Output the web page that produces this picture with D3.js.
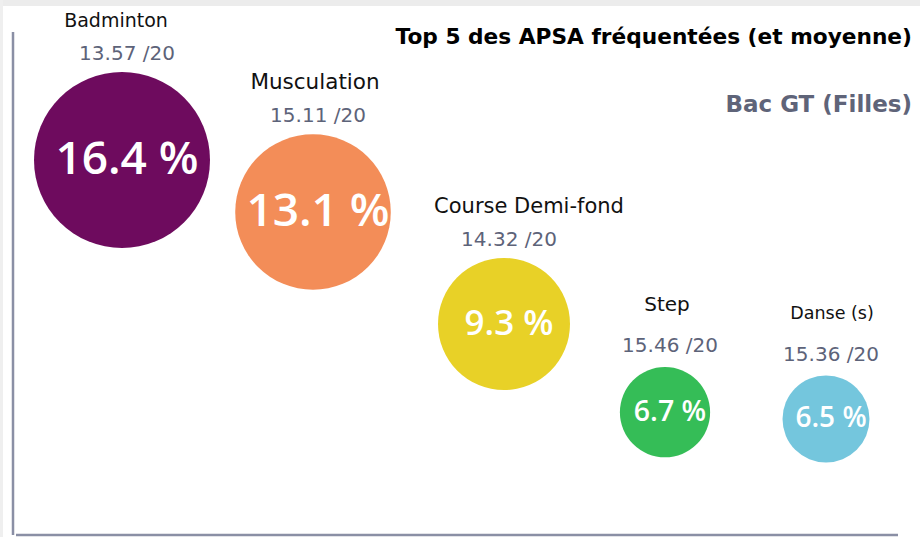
<!DOCTYPE html>
<html>
<head>
<meta charset="utf-8">
<script src="https://cdn.jsdelivr.net/npm/d3@7"></script>
<style>
  body { margin: 0; background: #fff; }
  svg { display: block; }
</style>
</head>
<body>
<svg id="chart"></svg>
<script>
// data
let categories = ['Badminton', 'Musculation', 'Course Demi-fond', 'Step', 'Danse (s)'];
let percents = [16.4, 13.1, 9.3, 6.7, 6.5];
let scores = [13.57, 15.11, 14.32, 15.46, 15.36];

// styling per bubble
let palette = ['#6e0b5e', '#f38d58', '#e8d127', '#35bd57', '#74c6dd'];
let nameSizes = [19, 21.5, 21, 20, 17.5];
let nameShifts = [-6, 2, 25, 2, 6];

let width = 920;
let height = 537;
let labelFont = "'DejaVu Sans', sans-serif";
let pctFont = "'Open Sans', sans-serif";

let svg = d3.select('#chart')
    .attr('width', width)
    .attr('height', height);

// light frame of the screenshot
svg.append('rect').attr('x', 0).attr('y', 0).attr('width', width).attr('height', 6).attr('fill', '#ececec');
svg.append('rect').attr('x', 0).attr('y', 0).attr('width', 3).attr('height', height).attr('fill', '#efefef');

let nodes = categories.map(function (c, i) {
    return {name: c, pct: percents[i], score: scores[i], idx: i};
});

let xScale = d3.scaleLinear().domain([0, 2, 4]).range([122, 504, 826]);
let yScale = d3.scaleLinear().domain([6.5, 9.3, 13.1, 16.4]).range([419, 324, 212, 160]);
let rScale = d3.scaleLinear().domain([6.5, 9.3, 16.4]).range([43.5, 66, 88]);
let fontScale = d3.scaleLinear().domain([6.5, 9.3, 13.1]).range([28, 35, 46]).clamp(true);
let colorScale = d3.scaleOrdinal().domain(categories).range(palette);
let nameSize = d3.scaleOrdinal().domain(categories).range(nameSizes);
let nameShift = d3.scaleOrdinal().domain(categories).range(nameShifts);
// small bubbles have their labels set a little higher
let nameGap = d3.scaleLinear().domain([43.5, 66]).range([57, 45]).clamp(true);
let scoreGap = d3.scaleLinear().domain([43.5, 66]).range([15, 12]).clamp(true);

// axes lines
let axisColor = '#8a8fa5';
svg.append('line')
    .attr('x1', 13).attr('x2', 13).attr('y1', 32).attr('y2', 535)
    .attr('stroke', axisColor).attr('stroke-width', 2.5);
svg.append('line')
    .attr('x1', 16).attr('x2', 898).attr('y1', 535).attr('y2', 535)
    .attr('stroke', axisColor).attr('stroke-width', 2.5);

// title
svg.append('text')
    .attr('x', 912).attr('y', 44)
    .attr('text-anchor', 'end')
    .style('font-family', labelFont)
    .style('font-weight', 'bold')
    .style('font-size', '21.7px')
    .style('fill', '#000')
    .text('Top 5 des APSA fréquentées (et moyenne)');

svg.append('text')
    .attr('x', 912).attr('y', 111.5)
    .attr('text-anchor', 'end')
    .style('font-family', labelFont)
    .style('font-weight', 'bold')
    .style('font-size', '23px')
    .style('fill', '#5f6479')
    .text('Bac GT (Filles)');

let g = svg.selectAll('g.bubble')
    .data(nodes)
    .enter()
    .append('g')
    .attr('class', 'bubble');

g.append('circle')
    .attr('cx', function (d) { return xScale(d.idx); })
    .attr('cy', function (d) { return yScale(d.pct); })
    .attr('r', function (d) { return rScale(d.pct); })
    .style('fill', function (d) { return colorScale(d.name); });

g.append('text')
    .attr('x', function (d) { return xScale(d.idx) + 5; })
    .attr('y', function (d) { return yScale(d.pct) + fontScale(d.pct) * 0.3; })
    .attr('text-anchor', 'middle')
    .style('font-family', pctFont)
    .style('font-weight', 600)
    .style('font-size', function (d) { return fontScale(d.pct) + 'px'; })
    .style('fill', '#fff')
    .text(function (d) { return d3.format('.1f')(d.pct) + ' %'; });

// category name above
g.append('text')
    .attr('x', function (d) { return xScale(d.idx) + nameShift(d.name); })
    .attr('y', function (d) { return yScale(d.pct) - rScale(d.pct) - nameGap(rScale(d.pct)); })
    .attr('text-anchor', 'middle')
    .style('font-family', labelFont)
    .style('font-size', function (d) { return nameSize(d.name) + 'px'; })
    .style('fill', '#111')
    .text(function (d) { return d.name; });

// average mark
g.append('text')
    .attr('x', function (d) { return xScale(d.idx) + 5; })
    .attr('y', function (d) { return yScale(d.pct) - rScale(d.pct) - scoreGap(rScale(d.pct)); })
    .attr('text-anchor', 'middle')
    .style('font-family', labelFont)
    .style('font-size', '20px')
    .style('fill', '#5d6379')
    .text(function (d) { return d3.format('.2f')(d.score) + ' /20'; });
</script>
</body>
</html>
